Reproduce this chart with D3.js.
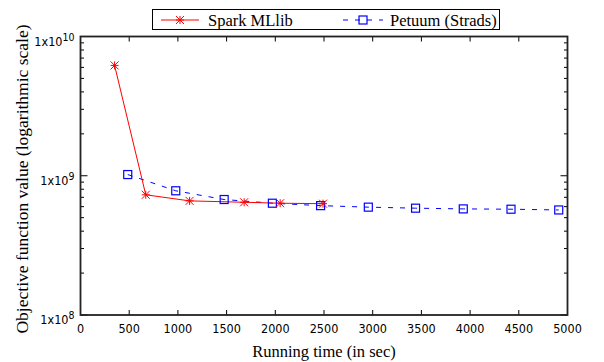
<!DOCTYPE html>
<html>
<head>
<meta charset="utf-8">
<script src="https://cdn.jsdelivr.net/npm/d3@7"></script>
<style>
  body { margin: 0; background: #fff; }
  svg { display: block; }
</style>
</head>
<body>
<div id="chart"></div>
<script>
// values
const sparkTime = [350, 670, 1120, 1680, 2050, 2490];
const sparkObj = [6.2e9, 7.3e8, 6.6e8, 6.45e8, 6.35e8, 6.3e8];
const petuumTime = [485, 978, 1475, 1970, 2465, 2955, 3440, 3930, 4420, 4910];
const petuumObj = [1.02e9, 7.8e8, 6.75e8, 6.35e8, 6.1e8, 5.95e8, 5.85e8, 5.78e8, 5.75e8, 5.68e8];
const xTicks = [0, 500, 1000, 1500, 2000, 2500, 3000, 3500, 4000, 4500, 5000];
const yExps = [8, 9, 10];

const width = 604, height = 362;
const m = { top: 36.5, right: 36.5, bottom: 47, left: 80.5 };

const svg = d3.select("#chart").append("svg")
  .attr("width", width)
  .attr("height", height);

const x = d3.scaleLinear()
  .domain([0, 5000])
  .range([m.left, width - m.right]);
const y = d3.scaleLog()
  .domain([1e8, 1e10])
  .range([height - m.bottom, m.top]);

// minor y ticks (2..9 per decade)
const minor = [];
for (let e = 8; e < 10; e++) {
  for (let k = 2; k <= 9; k++) minor.push(k * Math.pow(10, e));
}

const g = svg.append("g");
const tickFont = "'Liberation Sans Narrow', 'DejaVu Sans Condensed', 'Liberation Sans', sans-serif";

// x ticks bottom & top, pointing inward
xTicks.forEach(t => {
  g.append("line").attr("x1", x(t)).attr("x2", x(t))
    .attr("y1", y(1e8)).attr("y2", y(1e8) - 5).attr("stroke", "#000");
  g.append("line").attr("x1", x(t)).attr("x2", x(t))
    .attr("y1", y(1e10)).attr("y2", y(1e10) + 5).attr("stroke", "#000");
  g.append("text").attr("x", x(t)).attr("y", y(1e8) + 17.5)
    .attr("text-anchor", "middle")
    .attr("font-family", tickFont).attr("font-size", 12.5)
    .text(t);
});

// y major ticks
yExps.forEach(e => {
  const v = Math.pow(10, e);
  g.append("line").attr("x1", x(0)).attr("x2", x(0) + 7)
    .attr("y1", y(v)).attr("y2", y(v)).attr("stroke", "#000");
  g.append("line").attr("x1", x(5000)).attr("x2", x(5000) - 7)
    .attr("y1", y(v)).attr("y2", y(v)).attr("stroke", "#000");
  const t = g.append("text").attr("x", x(0) - 6).attr("y", y(v) + 9)
    .attr("text-anchor", "end")
    .attr("font-family", tickFont).attr("font-size", 12.5);
  t.append("tspan").text("1x10");
  t.append("tspan").attr("dy", -5).attr("font-size", 10.5).text(e);
});

// y minor ticks
minor.forEach(v => {
  g.append("line").attr("x1", x(0)).attr("x2", x(0) + 3.5)
    .attr("y1", y(v)).attr("y2", y(v)).attr("stroke", "#000");
  g.append("line").attr("x1", x(5000)).attr("x2", x(5000) - 3.5)
    .attr("y1", y(v)).attr("y2", y(v)).attr("stroke", "#000");
});

// frame
svg.append("rect")
  .attr("x", x(0)).attr("y", y(1e10))
  .attr("width", x(5000) - x(0)).attr("height", y(1e8) - y(1e10))
  .attr("fill", "none").attr("stroke", "#222").attr("stroke-width", 1.8);

// axis titles
const serif = "'Liberation Serif', 'Times New Roman', serif";
svg.append("text")
  .attr("x", (x(0) + x(5000)) / 2).attr("y", 357)
  .attr("text-anchor", "middle")
  .attr("font-family", serif).attr("font-size", 16.5)
  .text("Running time (in sec)");
svg.append("text")
  .attr("transform", `translate(27.5,179) rotate(-90)`)
  .attr("text-anchor", "middle")
  .attr("font-family", serif).attr("font-size", 17.5)
  .text("Objective function value (logarithmic scale)");

// markers
function star(sel, cx, cy, r) {
  const s = sel.append("g").attr("transform", `translate(${cx},${cy})`)
    .attr("stroke", "#ff0000").attr("stroke-width", 1);
  s.append("line").attr("x1", -r).attr("x2", r).attr("y1", 0).attr("y2", 0);
  s.append("line").attr("x1", 0).attr("x2", 0).attr("y1", -r).attr("y2", r);
  s.append("line").attr("x1", -r).attr("x2", r).attr("y1", -r).attr("y2", r);
  s.append("line").attr("x1", -r).attr("x2", r).attr("y1", r).attr("y2", -r);
}
function square(sel, cx, cy, r) {
  sel.append("rect").attr("x", cx - r).attr("y", cy - r)
    .attr("width", 2 * r).attr("height", 2 * r)
    .attr("fill", "none").attr("stroke", "#0000ff").attr("stroke-width", 1.2);
}

const sparkData = sparkTime.map((t, i) => [t, sparkObj[i]]);
const petuumData = petuumTime.map((t, i) => [t, petuumObj[i]]);
const line = d3.line().x(d => x(d[0])).y(d => y(d[1]));

svg.append("path").datum(petuumData)
  .attr("d", line).attr("fill", "none")
  .attr("stroke", "#0000ff").attr("stroke-width", 1)
  .attr("stroke-dasharray", "5,7");
svg.append("path").datum(sparkData)
  .attr("d", line).attr("fill", "none")
  .attr("stroke", "#ff0000").attr("stroke-width", 1);

const marks = svg.append("g");
petuumData.forEach(d => square(marks, x(d[0]), y(d[1]), 4));
sparkData.forEach(d => star(marks, x(d[0]), y(d[1]), 4));

// legend
const lg = svg.append("g");
lg.append("rect").attr("x", 152.5).attr("y", 9.5).attr("width", 347).attr("height", 20)
  .attr("fill", "#fff").attr("stroke", "#000").attr("stroke-width", 1);
lg.append("line").attr("x1", 161).attr("x2", 199).attr("y1", 20).attr("y2", 20)
  .attr("stroke", "#ff0000");
star(lg, 180, 20, 4);
lg.append("text").attr("x", 208).attr("y", 25.5)
  .attr("font-family", serif).attr("font-size", 16.5).text("Spark MLlib");
lg.append("line").attr("x1", 343).attr("x2", 383).attr("y1", 20).attr("y2", 20)
  .attr("stroke", "#0000ff").attr("stroke-dasharray", "5,7");
square(lg, 363, 20, 4);
lg.append("text").attr("x", 390).attr("y", 25.5)
  .attr("font-family", serif).attr("font-size", 16.5).text("Petuum (Strads)");
</script>
</body>
</html>
